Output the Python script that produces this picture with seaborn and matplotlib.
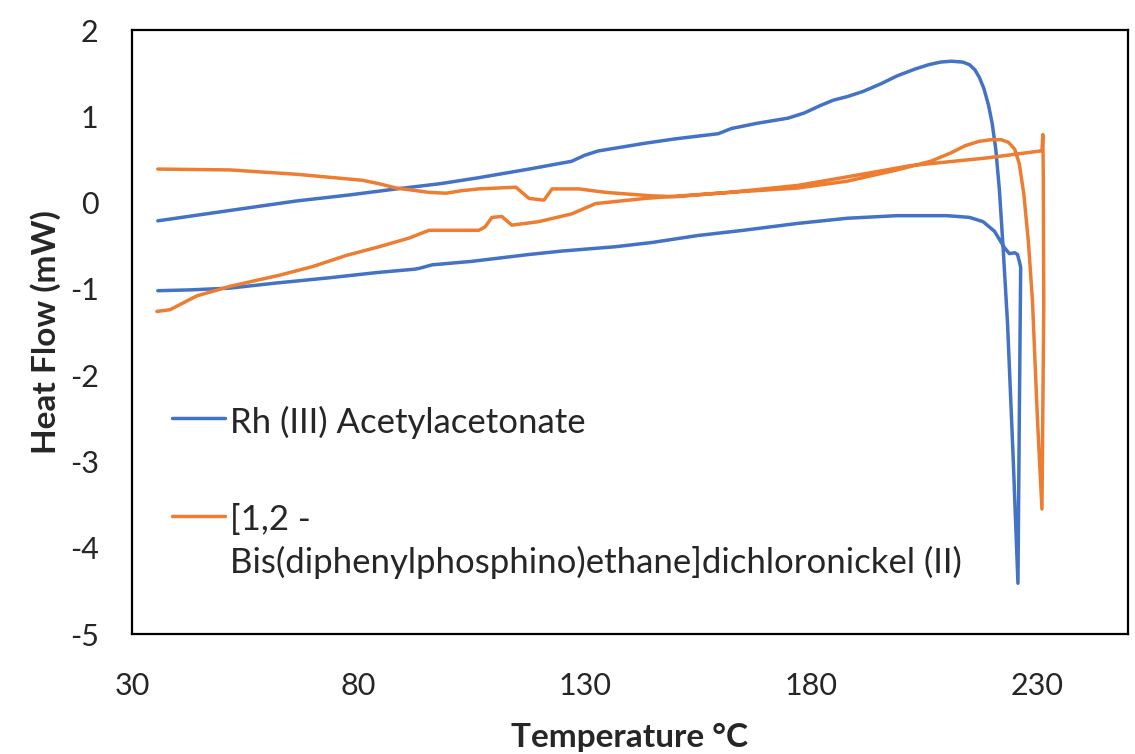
import pandas as pd
import matplotlib.pyplot as plt
import seaborn as sns
from matplotlib.offsetbox import HPacker

sns.set_style("white")
plt.rcParams["font.family"] = ["Lato", "DejaVu Sans"]
plt.rcParams["axes.unicode_minus"] = False

# DSC loop, Rh (III) acetylacetonate
rh_temp = [35.7, 43, 51.6, 62, 73.6, 84, 92.5, 93.5, 96.3, 105, 117.7, 125, 136.8, 145,
           155, 165, 177, 188, 199, 210, 215, 218, 220.5, 222.7, 223.8, 225, 225.6, 226.1,
           226.3, 226.0, 225.7, 224.6, 223.4, 222.4, 221.6, 220.8, 220.0, 219.2, 218.2, 217.2,
           216.2, 215.0, 213.5, 211, 208.6, 206, 203, 199, 195.5, 191.5, 188, 185, 182.2,
           178.5, 174.9, 168, 162.4, 159.5, 150, 143.4, 133, 130, 127.1, 117.7, 106.6, 98,
           88.4, 78, 66.3, 51.6, 35.7]
rh_flow = [-1.02, -1.01, -0.99, -0.93, -0.87, -0.81, -0.77, -0.76, -0.72, -0.68, -0.60, -0.56,
           -0.51, -0.46, -0.38, -0.32, -0.24, -0.18, -0.15, -0.15, -0.17, -0.22, -0.33, -0.52,
           -0.59, -0.58, -0.60, -0.70, -0.75, -2.5, -4.41, -2.9, -1.40, -0.50, 0.15, 0.62,
           0.92, 1.13, 1.32, 1.45, 1.54, 1.60, 1.63, 1.64, 1.63, 1.60, 1.55, 1.47, 1.38, 1.29,
           1.23, 1.19, 1.13, 1.04, 0.98, 0.92, 0.86, 0.80, 0.74, 0.69, 0.60, 0.55, 0.48, 0.39,
           0.29, 0.22, 0.16, 0.09, 0.02, -0.09, -0.21]

# DSC loop, [1,2-Bis(diphenylphosphino)ethane]dichloronickel (II)
ni_temp = [35.5, 38.4, 44.3, 51.6, 57.5, 62.6, 69.9, 77.4, 84.6, 91.2, 95.6, 106.6, 108,
           109.5, 111.7, 113.9, 119.8, 127.1, 132.4, 143.4, 162, 177, 188, 199, 206.4, 211,
           214, 217, 219.7, 222, 223.6, 225, 226, 227, 228, 228.9, 230, 231, 231.4, 231.3,
           231.2, 231.0, 230.7, 219, 202, 188, 177, 162, 150, 144.7, 134.6, 128.7, 122.8,
           121, 117.7, 114.8, 106.6, 102.9, 99.4, 95.6, 88.4, 84.6, 80.9, 66.3, 51.6, 35.7]
ni_flow = [-1.26, -1.24, -1.08, -0.97, -0.90, -0.84, -0.74, -0.61, -0.51, -0.41, -0.32, -0.32,
           -0.28, -0.17, -0.16, -0.26, -0.22, -0.13, -0.01, 0.05, 0.12, 0.17, 0.25, 0.38, 0.48,
           0.58, 0.66, 0.71, 0.73, 0.73, 0.70, 0.62, 0.45, 0.10, -0.45, -1.13, -2.5, -3.55,
           -1.2, 0.3, 0.79, 0.60, 0.60, 0.52, 0.43, 0.30, 0.20, 0.12, 0.07, 0.08, 0.12, 0.16,
           0.16, 0.03, 0.05, 0.18, 0.16, 0.14, 0.11, 0.12, 0.17, 0.22, 0.26, 0.33, 0.38, 0.39]

rh_label = "Rh (III) Acetylacetonate"
ni_label = "[1,2 -\nBis(diphenylphosphino)ethane]dichloronickel (II)"

rh = pd.DataFrame({"Temperature": rh_temp, "Heat Flow": rh_flow})
ni = pd.DataFrame({"Temperature": ni_temp, "Heat Flow": ni_flow})

fig = plt.figure(figsize=(11.35, 7.54), dpi=100)
ax = fig.add_axes([0.1163, 0.159, 0.8775, 0.801])

sns.lineplot(data=rh, x="Temperature", y="Heat Flow", sort=False, estimator=None,
             color="#4472C4", linewidth=2.5, label=rh_label, ax=ax)
sns.lineplot(data=ni, x="Temperature", y="Heat Flow", sort=False, estimator=None,
             color="#ED7D31", linewidth=2.5, label=ni_label, ax=ax)

ax.set_xlim(30, 250)
ax.set_ylim(-5, 2)
ax.set_xticks([30, 80, 130, 180, 230])
ax.set_yticks(range(-5, 3))
ax.tick_params(axis="both", length=0, labelsize=22)
ax.tick_params(axis="y", pad=24)
ax.tick_params(axis="x", pad=27)
for s in ax.spines.values():
    s.set_color("black")
    s.set_linewidth(1.6)

ax.set_xlabel("Temperature °C", fontsize=24, fontweight="bold", labelpad=17)
ax.set_ylabel("Heat Flow (mW)", fontsize=24, fontweight="bold", labelpad=6)

leg = ax.legend(loc="upper left", bbox_to_anchor=(0.040, 0.378), frameon=False,
                fontsize=25, handlelength=1.53, handletextpad=0.15, borderpad=0,
                borderaxespad=0, labelspacing=1.87)
for t in leg.get_texts():
    t.set_linespacing(1.38)
for pk in leg.findobj(HPacker):
    pk.align = "top"

fig.savefig("out.png", dpi=100)
